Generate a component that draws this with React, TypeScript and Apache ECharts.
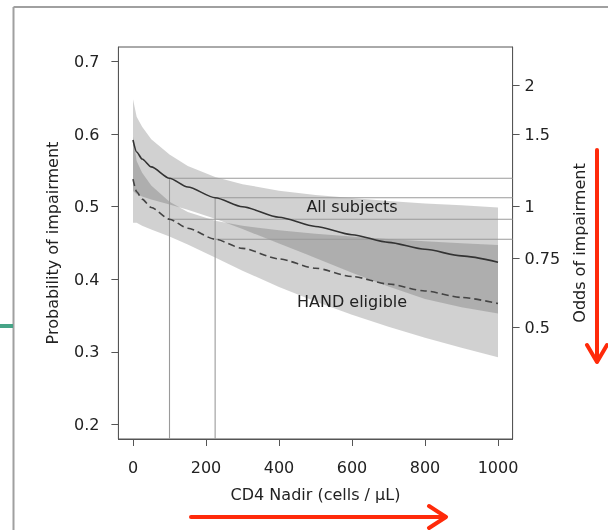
import React, { useEffect, useRef } from "react";
import * as echarts from "echarts";

// CD4 nadir grid (cells / µL)
const cd4 = [0, 10, 25, 50, 100, 150, 225, 300, 400, 500, 600, 700, 800, 900, 1000];
// All subjects: fitted probability and confidence band
const allFit = [0.5919, 0.5754, 0.5657, 0.5548, 0.5392, 0.5271, 0.5124, 0.4999, 0.4855, 0.4728, 0.4614, 0.4509, 0.4413, 0.4322, 0.4236];
const allUpper = [0.648, 0.624, 0.61, 0.593, 0.572, 0.556, 0.541, 0.531, 0.522, 0.516, 0.512, 0.508, 0.5045, 0.502, 0.499];
const allLower = [0.5217, 0.517, 0.5139, 0.51, 0.503, 0.4958, 0.4834, 0.4692, 0.4494, 0.4295, 0.409, 0.39, 0.373, 0.3615, 0.353];
// HAND eligible: fitted probability and confidence band
const handFit = [0.5379, 0.5205, 0.5104, 0.4989, 0.4828, 0.4704, 0.4552, 0.4426, 0.428, 0.4153, 0.4039, 0.3935, 0.3839, 0.375, 0.3666];
const handUpper = [0.5968, 0.5629, 0.5467, 0.5291, 0.5067, 0.4928, 0.4808, 0.4737, 0.4674, 0.4627, 0.4589, 0.4555, 0.4525, 0.4498, 0.4473];
const handLower = [0.478, 0.4778, 0.4739, 0.4687, 0.4588, 0.448, 0.43, 0.4118, 0.3895, 0.3693, 0.3512, 0.3347, 0.3196, 0.3056, 0.2927];

// reference CD4 values marked with guide lines
const refCd4 = [100, 225];

// axis ticks
const xTicks = [0, 200, 400, 600, 800, 1000];
const yTicks = [0.2, 0.3, 0.4, 0.5, 0.6, 0.7];
const oddsTicks = [0.5, 0.75, 1, 1.5, 2];

// in-plot labels
const labelTexts = ["All subjects", "HAND eligible"];
const labelX = [600, 600];
const labelY = [0.5, 0.37];

const FONT = "DejaVu Sans";

export default function App() {
  const ref = useRef<HTMLDivElement>(null);
  useEffect(() => {
    if (!ref.current) return;
    const chart = echarts.init(ref.current, undefined, { renderer: "svg" });

    const band = (upper: number[], lower: number[], fill: string) => (params: any, api: any) => {
      if (params.dataIndex !== 0) return null;
      const pts: number[][] = [];
      cd4.forEach((x, i) => pts.push(api.coord([x, upper[i]])));
      for (let i = cd4.length - 1; i >= 0; i--) pts.push(api.coord([cd4[i], lower[i]]));
      return { type: "polygon", shape: { points: pts }, style: { fill, stroke: "none" } };
    };

    const oddsPos = oddsTicks.map((o) => o / (1 + o));
    const fmtOdds = (v: number) => String(Math.round((v / (1 - v)) * 100) / 100);

    const axisCommon = {
      axisLine: { show: true, onZero: false, lineStyle: { color: "#555", width: 1 } },
      splitLine: { show: false },
      axisLabel: { color: "#222", fontFamily: FONT, fontSize: 16 },
      nameTextStyle: { color: "#222", fontFamily: FONT, fontSize: 16 },
    };
    const tick = (vals: number[]) => ({ show: true, inside: false, length: 7, lineStyle: { color: "#555" }, customValues: vals });

    chart.setOption({
      animation: false,
      grid: {
        left: 118.4,
        right: 95.4,
        top: 47,
        bottom: 91,
        show: true,
        borderColor: "#555",
        borderWidth: 1,
        backgroundColor: "transparent",
      },
      xAxis: {
        type: "value",
        min: -40,
        max: 1040,
        ...axisCommon,
        axisTick: tick(xTicks),
        axisLabel: { ...axisCommon.axisLabel, margin: 20, customValues: xTicks, formatter: (v: number) => String(v) },
        name: "CD4 Nadir (cells / µL)",
        nameLocation: "middle",
        nameGap: 47,
      },
      yAxis: [
        {
          type: "value",
          position: "left",
          min: 0.18,
          max: 0.72,
          ...axisCommon,
          axisTick: tick(yTicks),
          axisLabel: { ...axisCommon.axisLabel, margin: 19, customValues: yTicks, formatter: (v: number) => String(Math.round(v * 10) / 10) },
          name: "Probability of impairment",
          nameLocation: "middle",
          nameGap: 58,
          nameRotate: 90,
        },
        {
          type: "value",
          position: "right",
          min: 0.18,
          max: 0.72,
          ...axisCommon,
          axisTick: tick(oddsPos),
          axisLabel: { ...axisCommon.axisLabel, margin: 12, customValues: oddsPos, formatter: fmtOdds },
          name: "Odds of impairment",
          nameLocation: "middle",
          nameGap: 50,
          nameRotate: 90,
        },
      ],
      graphic: [
        // outer frame
        { type: "line", shape: { x1: 13.5, y1: 7, x2: 608, y2: 7 }, style: { stroke: "#a0a0a0", lineWidth: 2 } },
        { type: "line", shape: { x1: 13.5, y1: 7, x2: 13.5, y2: 530 }, style: { stroke: "#a0a0a0", lineWidth: 2 } },
        // green mark
        { type: "line", shape: { x1: 0, y1: 326, x2: 13, y2: 326 }, style: { stroke: "#46a487", lineWidth: 4 } },
        // red horizontal arrow
        { type: "line", shape: { x1: 191, y1: 517, x2: 445, y2: 517 }, style: { stroke: "#ff2a0a", lineWidth: 4, lineCap: "round" } },
        { type: "polyline", shape: { points: [[429, 506], [446, 517], [429, 528]] }, style: { stroke: "#ff2a0a", lineWidth: 4, fill: "none", lineCap: "round", lineJoin: "round" } },
        // red vertical arrow
        { type: "line", shape: { x1: 597, y1: 150, x2: 597, y2: 361 }, style: { stroke: "#ff2a0a", lineWidth: 4, lineCap: "round" } },
        { type: "polyline", shape: { points: [[587, 345], [597, 362], [607, 345]] }, style: { stroke: "#ff2a0a", lineWidth: 4, fill: "none", lineCap: "round", lineJoin: "round" } },
      ],
      series: [
        {
          type: "custom",
          name: "All band",
          data: [0],
          renderItem: band(allUpper, allLower, "rgba(70,70,70,0.25)"),
          z: 1,
        },
        {
          type: "custom",
          name: "HAND band",
          data: [0],
          renderItem: band(handUpper, handLower, "rgba(70,70,70,0.25)"),
          z: 1,
        },
        {
          type: "custom",
          name: "guides",
          data: refCd4.map((x) => [x]),
          z: 2,
          renderItem: (params: any, api: any) => {
            const x = refCd4[params.dataIndex];
            const i = cd4.indexOf(x);
            const cs = params.coordSys;
            const right = cs.x + cs.width;
            const bottom = cs.y + cs.height;
            const pA = api.coord([x, allFit[i]]);
            const pH = api.coord([x, handFit[i]]);
            const st = { stroke: "#9a9a9a", lineWidth: 1.1 };
            return {
              type: "group",
              children: [
                { type: "line", shape: { x1: pA[0], y1: bottom, x2: pA[0], y2: pA[1] }, style: st },
                { type: "line", shape: { x1: pA[0], y1: pA[1], x2: right, y2: pA[1] }, style: st },
                { type: "line", shape: { x1: pH[0], y1: pH[1], x2: right, y2: pH[1] }, style: st },
              ],
            };
          },
        },
        {
          type: "line",
          name: "All subjects",
          data: cd4.map((x, i) => [x, allFit[i]]),
          symbol: "none",
          smooth: 0.25,
          smoothMonotone: "x",
          lineStyle: { color: "#333", width: 1.6 },
          z: 3,
        },
        {
          type: "line",
          name: "HAND eligible",
          data: cd4.map((x, i) => [x, handFit[i]]),
          symbol: "none",
          smooth: 0.25,
          smoothMonotone: "x",
          lineStyle: { color: "#444", width: 1.6, type: [7, 4] },
          z: 3,
        },
        {
          type: "custom",
          name: "labels",
          data: labelTexts.map((t, i) => [labelX[i], labelY[i]]),
          z: 4,
          renderItem: (params: any, api: any) => {
            const i = params.dataIndex;
            const p = api.coord([labelX[i], labelY[i]]);
            return {
              type: "text",
              x: p[0],
              y: p[1],
              style: {
                text: labelTexts[i],
                fill: "#222",
                font: `16px '${FONT}'`,
                align: "center",
                verticalAlign: "middle",
              },
            };
          },
        },
      ],
    });
    return () => chart.dispose();
  }, []);
  return <div ref={ref} style={{ position: "fixed", left: 0, top: 0, width: 608, height: 530 }} />;
}
